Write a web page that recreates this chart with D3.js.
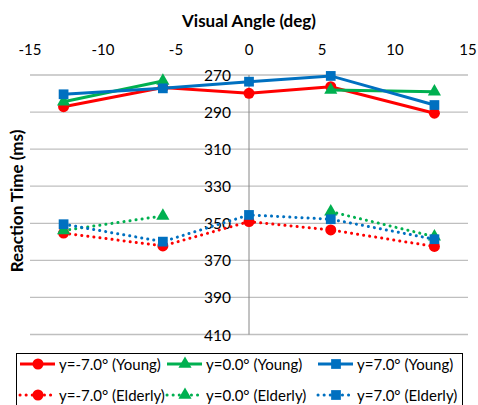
<html>
<head>
<meta charset="utf-8" />
<script src="https://d3js.org/d3.v7.min.js"></script>
<style>
  body { margin: 0; background: #fff; }
  svg { font-family: Lato, "Liberation Sans", sans-serif; }
</style>
</head>
<body>
<svg id="chart" width="478" height="405"></svg>
<script>
// visual angle (x) of each measurement
var angles = [-12.7, -5.9, 0, 5.6, 12.7];

// reaction times (ms); null = no point
var youngNeg7 = [287.1, 276.8, 279.9, 276.3, 290.6];
var youngZero = [284.4, 273.2, null, 278.1, 279.0];
var youngPos7 = [280.4, 277.2, 273.6, 270.5, 286.2];
var elderNeg7 = [355.3, 362.2, 349.1, 353.6, 362.5];
var elderZero = [353.9, 346.0, null, 343.7, 357.2];
var elderPos7 = [350.5, 359.9, 345.5, 347.8, 358.6];

var seriesNames = ["y=-7.0\u00b0 (Young)", "y=0.0\u00b0 (Young)", "y=7.0\u00b0 (Young)",
                   "y=-7.0\u00b0 (Elderly)", "y=0.0\u00b0 (Elderly)", "y=7.0\u00b0 (Elderly)"];
var xTicks = [-15, -10, -5, 0, 5, 10, 15];
var yTicks = [270, 290, 310, 330, 350, 370, 390, 410];

var colors = ["#ff0000", "#00b050", "#0070c0"];
var shapes = [d3.symbolCircle, d3.symbolTriangle, d3.symbolSquare];

var series = [youngNeg7, youngZero, youngPos7, elderNeg7, elderZero, elderPos7].map(function (vals, i) {
  return {
    name: seriesNames[i],
    color: colors[i % 3],
    shape: shapes[i % 3],
    dotted: i >= 3,
    points: vals.map(function (v, j) { return { x: angles[j], y: v }; })
  };
});

var svg = d3.select("#chart");
var x = d3.scaleLinear().domain([-15, 15]).range([30, 468]);
var y = d3.scaleLinear().domain([270, 410]).range([75, 334.5]);

// gridlines
svg.append("g").selectAll("line").data(yTicks).enter().append("line")
  .attr("x1", x(-15)).attr("x2", x(15))
  .attr("y1", function (d) { return y(d); }).attr("y2", function (d) { return y(d); })
  .attr("stroke", "#bfbfbf").attr("stroke-width", 1.3);

// vertical axis at x = 0
svg.append("line")
  .attr("x1", x(0)).attr("x2", x(0)).attr("y1", y(270)).attr("y2", y(410))
  .attr("stroke", "#868686").attr("stroke-width", 1);

// x tick labels on top
svg.append("g").selectAll("text").data(xTicks).enter().append("text")
  .attr("x", function (d) { return x(d); }).attr("y", 49)
  .attr("text-anchor", "middle").attr("dominant-baseline", "central")
  .attr("font-size", 15).attr("fill", "#000")
  .text(function (d) { return d; });

// y tick labels next to vertical axis
svg.append("g").selectAll("text").data(yTicks).enter().append("text")
  .attr("x", x(0) - 18).attr("y", function (d) { return y(d); })
  .attr("text-anchor", "end").attr("dominant-baseline", "central")
  .attr("font-size", 15.5).attr("fill", "#000")
  .text(function (d) { return d; });

// titles
svg.append("text").attr("x", 249).attr("y", 20)
  .attr("text-anchor", "middle").attr("dominant-baseline", "central")
  .attr("font-size", 17).attr("font-weight", "bold")
  .text("Visual Angle (deg)");

svg.append("text").attr("transform", "translate(16,201) rotate(-90)")
  .attr("text-anchor", "middle").attr("dominant-baseline", "central")
  .attr("font-size", 17).attr("font-weight", "bold")
  .text("Reaction Time (ms)");

var line = d3.line()
  .defined(function (d) { return d.y != null; })
  .x(function (d) { return x(d.x); })
  .y(function (d) { return y(d.y); });

function symbolSize(shape) {
  return shape === d3.symbolTriangle ? 75 : 95;
}

series.forEach(function (s) {
  var g = svg.append("g");
  g.append("path").datum(s.points)
    .attr("d", line)
    .attr("fill", "none")
    .attr("stroke", s.color)
    .attr("stroke-width", 3)
    .attr("stroke-linecap", s.dotted ? "round" : "butt")
    .attr("stroke-dasharray", s.dotted ? "0.1,6" : null);
  g.selectAll("path.mark").data(s.points.filter(function (d) { return d.y != null; }))
    .enter().append("path").attr("class", "mark")
    .attr("transform", function (d) { return "translate(" + x(d.x) + "," + y(d.y) + ")"; })
    .attr("d", d3.symbol().type(s.shape).size(symbolSize(s.shape)))
    .attr("fill", s.color);
});

// legend
var legend = svg.append("g");
legend.append("rect").attr("x", 16.5).attr("y", 353.5).attr("width", 446).attr("height", 60)
  .attr("fill", "#fff").attr("stroke", "#000").attr("stroke-width", 1);

var colX = [20, 167, 318];
var rowY = [364, 395];
series.forEach(function (s, i) {
  var cx = colX[i % 3], cy = rowY[Math.floor(i / 3)];
  var item = legend.append("g");
  item.append("line").attr("x1", cx).attr("x2", cx + 35).attr("y1", cy).attr("y2", cy)
    .attr("stroke", s.color).attr("stroke-width", 3)
    .attr("stroke-linecap", s.dotted ? "round" : "butt")
    .attr("stroke-dasharray", s.dotted ? "0.1,6" : null);
  item.append("path")
    .attr("transform", "translate(" + (cx + 18) + "," + cy + ")")
    .attr("d", d3.symbol().type(s.shape).size(symbolSize(s.shape)))
    .attr("fill", s.color);
  item.append("text").attr("x", cx + 39).attr("y", cy)
    .attr("dominant-baseline", "central").attr("font-size", 15)
    .text(s.name);
});
</script>
</body>
</html>
